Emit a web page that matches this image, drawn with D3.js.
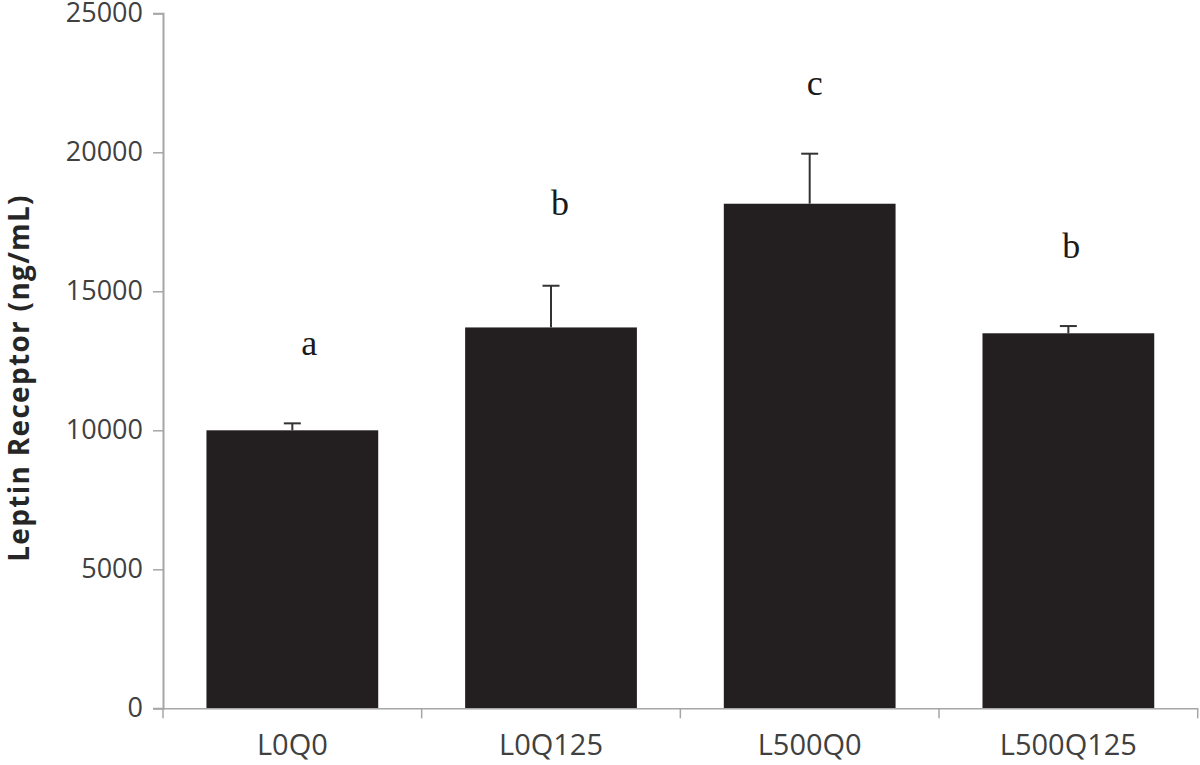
<!DOCTYPE html>
<html><head><meta charset="utf-8">
<script src="https://cdn.jsdelivr.net/npm/d3@7/dist/d3.min.js"></script>
<style>body{margin:0;background:#fff}svg{display:block}</style>
</head><body>
<svg id="c" width="1200" height="765"></svg>
<script>
const categories = ["L0Q0", "L0Q125", "L500Q0", "L500Q125"];
const means = [10000, 13700, 18150, 13490];
const errors = [250, 1500, 1800, 260];
const letters = ["a", "b", "c", "b"];
const letterValues = [12700, 17750, 22050, 16200];
const yTicks = [0, 5000, 10000, 15000, 20000, 25000];

(function () {
const svg = d3.select("#c");
const mLeft = 163, mRight = 1197.7, mTop = 13.3, mBottom = 708.3;
const x = d3.scaleBand().domain(categories).range([mLeft, mRight]).paddingInner(0.336).paddingOuter(0.168);
const y = d3.scaleLinear().domain([0, 25000]).range([mBottom, mTop]);

const font = "'Open Sans', Lato, sans-serif";

// bars
svg.selectAll("rect.bar").data(categories).enter().append("rect")
  .attr("x", d => x(d)).attr("width", x.bandwidth())
  .attr("y", (d, i) => y(means[i])).attr("height", (d, i) => y(0) - y(means[i]))
  .attr("fill", "#231f20");

// error bars
const eb = svg.append("g").attr("stroke", "#333").attr("stroke-width", 2);
categories.forEach((d, i) => {
  const cx = x(d) + x.bandwidth() / 2;
  eb.append("line").attr("x1", cx).attr("x2", cx).attr("y1", y(means[i])).attr("y2", y(means[i] + errors[i]));
  eb.append("line").attr("x1", cx - 8.5).attr("x2", cx + 8.5).attr("y1", y(means[i] + errors[i])).attr("y2", y(means[i] + errors[i]));
});

// y axis
const yAxis = svg.append("g").attr("transform", `translate(${mLeft},0)`)
  .call(d3.axisLeft(y).tickValues(yTicks).tickSize(10).tickPadding(10).tickFormat(d3.format("d")));
yAxis.select(".domain").attr("stroke", "#a6a6a6").attr("stroke-width", 2);
yAxis.selectAll(".tick line").attr("stroke", "#a6a6a6").attr("stroke-width", 1.5);
yAxis.selectAll(".tick text").attr("fill", "#404040").style("font-family", font).style("font-size", "27px");

// x axis
const xAxis = svg.append("g").attr("transform", `translate(0,${mBottom})`)
  .call(d3.axisBottom(x).tickSize(0).tickPadding(26));
xAxis.select(".domain").attr("stroke", "#a6a6a6").attr("stroke-width", 1.5);
xAxis.selectAll(".tick text").attr("fill", "#404040").style("font-family", font).style("font-size", "29px");
const bounds = categories.map(d => x(d) - x.step() * x.paddingInner() / 2).concat([mRight]);
xAxis.selectAll("line.sep").data(bounds).enter().append("line")
  .attr("x1", d => d).attr("x2", d => d).attr("y1", 0).attr("y2", 10)
  .attr("stroke", "#a6a6a6").attr("stroke-width", 1.5);

// significance letters
svg.selectAll("text.sig").data(letters).enter().append("text")
  .attr("x", (d, i) => x(categories[i]) + x.bandwidth() / 2 + [17, 9, 5, 3][i])
  .attr("y", (d, i) => y(letterValues[i]))
  .attr("text-anchor", "middle")
  .style("font-family", "'Liberation Serif', 'DejaVu Serif', serif").style("font-size", "36px")
  .attr("fill", "#1a1a1a").text(d => d);

// y title
svg.append("text").attr("transform", "translate(29,378) rotate(-90)")
  .attr("text-anchor", "middle")
  .style("font-family", font).style("font-size", "28px").style("font-weight", "bold")
  .style("letter-spacing", "1.3px")
  .attr("fill", "#262626").text("Leptin Receptor (ng/mL)");
})();
</script>
</body></html>
